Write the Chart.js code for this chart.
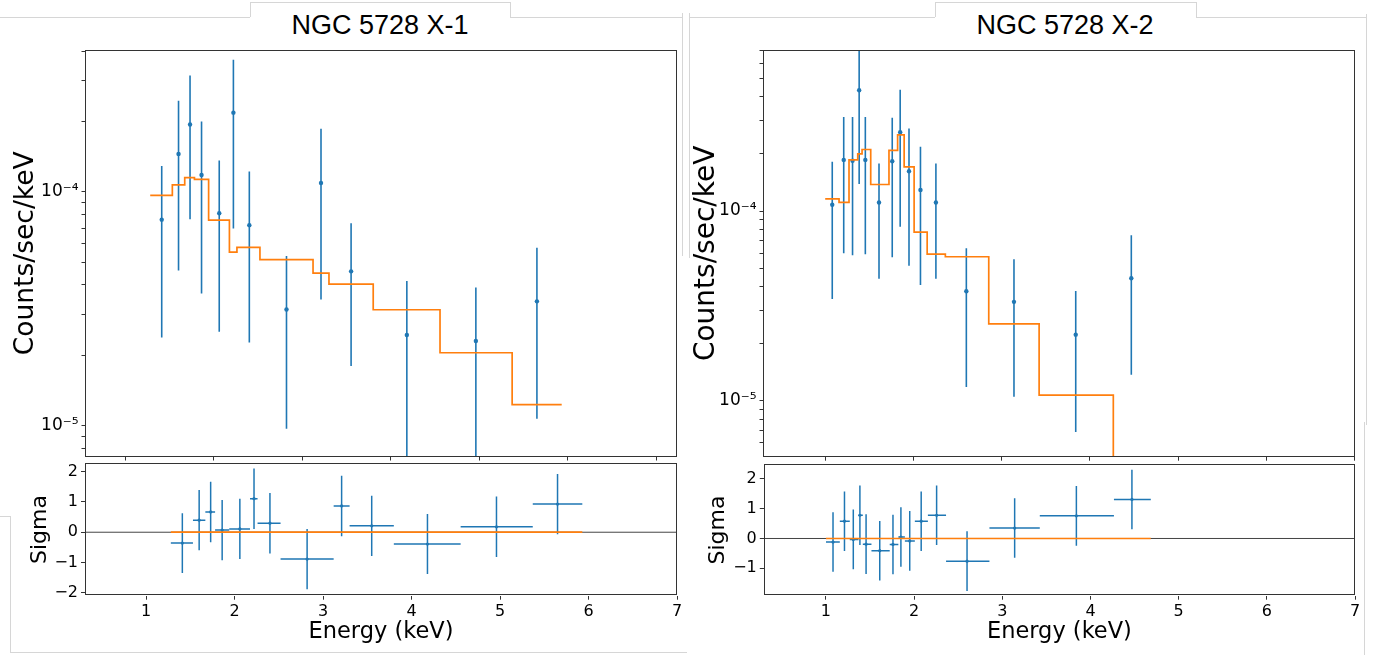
<!DOCTYPE html>
<html>
<head>
<meta charset="utf-8">
<title>NGC 5728 X-1 / X-2 spectra</title>
<script src="https://cdn.jsdelivr.net/npm/chart.js@4.4.1/dist/chart.umd.min.js"></script>
<style>
  body { margin: 0; background: #fff; }
  #page { position: relative; width: 1377px; height: 655px; overflow: hidden; background: #fff; }
  canvas { position: absolute; }
  .ln { position: absolute; background: #d6d6d6; }
  .title { position: absolute; top: 10px; width: 260px; text-align: center; line-height: 34px;
           font: 27px 'Liberation Sans', Arial, sans-serif; color: #000; }
</style>
</head>
<body>
<div id="page">
  <!-- screenshot frame lines -->
  <div class="ln" style="left:0;top:17px;width:250px;height:1px"></div>
  <div class="ln" style="left:250px;top:2px;width:1px;height:15px"></div>
  <div class="ln" style="left:250px;top:2px;width:260px;height:1px"></div>
  <div class="ln" style="left:510px;top:2px;width:1px;height:15px"></div>
  <div class="ln" style="left:510px;top:17px;width:172px;height:1px"></div>
  <div class="ln" style="left:682px;top:13px;width:1px;height:243px"></div>
  <div class="ln" style="left:689px;top:13px;width:1px;height:245px"></div>
  <div class="ln" style="left:690px;top:17px;width:245px;height:1px"></div>
  <div class="ln" style="left:935px;top:2px;width:1px;height:15px"></div>
  <div class="ln" style="left:935px;top:2px;width:261px;height:1px"></div>
  <div class="ln" style="left:1196px;top:2px;width:1px;height:15px"></div>
  <div class="ln" style="left:1196px;top:17px;width:170px;height:1px"></div>
  <div class="ln" style="left:1366px;top:14px;width:1px;height:411px"></div>
  <div class="ln" style="left:1364px;top:422px;width:1px;height:233px"></div>
  <div class="ln" style="left:0;top:516px;width:10px;height:1px"></div>
  <div class="ln" style="left:10px;top:516px;width:1px;height:137px"></div>
  <div class="ln" style="left:10px;top:652px;width:677px;height:1px"></div>

  <div class="title" style="left:250px">NGC 5728 X-1</div>
  <div class="title" style="left:935px">NGC 5728 X-2</div>

  <canvas id="x1Spec" width="690" height="425" style="left:0;top:40px"></canvas>
  <canvas id="x1Res" width="690" height="197" style="left:0;top:458px"></canvas>
  <canvas id="x2Spec" width="687" height="425" style="left:690px;top:40px"></canvas>
  <canvas id="x2Res" width="687" height="197" style="left:690px;top:458px"></canvas>
</div>
<script>
// tick values and labels
const energyTicks = [1, 2, 3, 4, 5, 6, 7];
const energyTickLabels = ['1', '2', '3', '4', '5', '6', '7'];
const fluxTicks = [1e-5, 1e-4];
const fluxTickLabels = ['10⁻⁵', '10⁻⁴'];
const x1SigmaTicks = [-2, -1, 0, 1, 2];
const x1SigmaTickLabels = ['−2', '−1', '0', '1', '2'];
const x2SigmaTicks = [-1, 0, 1, 2];
const x2SigmaTickLabels = ['−1', '0', '1', '2'];

// NGC 5728 X-1
const x1Energy   = [1.41, 1.60, 1.73, 1.86, 2.06, 2.22, 2.40, 2.82, 3.21, 3.55, 4.18, 4.96, 5.65];
const x1Flux     = [7.6e-5, 1.45e-4, 1.94e-4, 1.18e-4, 8.1e-5, 2.18e-4, 7.2e-5, 3.14e-5, 1.09e-4, 4.57e-5, 2.44e-5, 2.3e-5, 3.4e-5];
const x1FluxLo   = [2.38e-5, 4.61e-5, 7.63e-5, 3.67e-5, 2.52e-5, 6.97e-5, 2.27e-5, 9.7e-6, 3.46e-5, 1.8e-5, 1e-6, 1e-6, 1.07e-5];
const x1FluxHi   = [1.29e-4, 2.45e-4, 3.14e-4, 2.0e-4, 1.36e-4, 3.67e-4, 1.22e-4, 5.31e-5, 1.86e-4, 7.34e-5, 4.15e-5, 3.9e-5, 5.77e-5];
const x1BinEdges = [1.28, 1.53, 1.67, 1.78, 1.94, 2.175, 2.26, 2.52, 3.12, 3.30, 3.80, 4.555, 5.37, 5.93];
const x1Model    = [9.65e-5, 1.07e-4, 1.15e-4, 1.13e-4, 7.56e-5, 5.52e-5, 5.79e-5, 5.13e-5, 4.49e-5, 4.03e-5, 3.13e-5, 2.05e-5, 1.23e-5];
const x1Sigma    = [-0.36, 0.40, 0.67, 0.07, 0.11, 1.11, 0.30, -0.89, 0.87, 0.21, -0.39, 0.18, 0.93];
const x1SigmaErr = [0.99, 1.0, 1.0, 1.0, 1.0, 1.0, 1.0, 1.0, 1.0, 1.0, 0.99, 1.0, 1.0];

// NGC 5728 X-2
const x2Energy   = [1.08, 1.21, 1.31, 1.385, 1.455, 1.61, 1.76, 1.85, 1.95, 2.08, 2.255, 2.60, 3.14, 3.84, 4.47];
const x2Flux     = [1.08e-4, 1.86e-4, 1.84e-4, 4.33e-4, 1.86e-4, 1.11e-4, 1.83e-4, 2.6e-4, 1.62e-4, 1.29e-4, 1.11e-4, 3.78e-5, 3.32e-5, 2.23e-5, 4.42e-5];
const x2FluxLo   = [3.44e-5, 5.99e-5, 5.85e-5, 1.39e-4, 5.91e-5, 4.39e-5, 5.7e-5, 8.27e-5, 5.15e-5, 4.08e-5, 4.4e-5, 1.18e-5, 1.05e-5, 6.84e-6, 1.37e-5];
const x2FluxHi   = [1.82e-4, 3.13e-4, 3.13e-4, 9e-4, 3.13e-4, 1.78e-4, 3.1e-4, 4.36e-4, 2.72e-4, 2.18e-4, 1.78e-4, 6.37e-5, 5.57e-5, 3.79e-5, 7.45e-5];
const x2BinEdges = [1.0, 1.157, 1.27, 1.369, 1.418, 1.516, 1.723, 1.821, 1.895, 2.008, 2.156, 2.362, 2.854, 3.425, 4.266, 4.684];
const x2Model    = [1.16e-4, 1.11e-4, 1.86e-4, 2.0e-4, 2.11e-4, 1.38e-4, 2.09e-4, 2.52e-4, 1.71e-4, 7.75e-5, 5.92e-5, 5.74e-5, 2.54e-5, 1.07e-5, 3e-6];
const x2Sigma    = [-0.12, 0.58, -0.03, 0.78, -0.19, -0.41, -0.20, 0.05, -0.08, 0.58, 0.78, -0.76, 0.35, 0.76, 1.31];
const x2SigmaErr = [1.0, 1.0, 1.0, 1.0, 1.0, 1.0, 1.0, 1.0, 1.0, 1.0, 1.0, 1.0, 1.0, 1.0, 1.0];

const BLUE = '#1f77b4', ORANGE = '#ff7f0e', SPINE = '#333';
Chart.defaults.font.family = "'DejaVu Sans', sans-serif";
Chart.defaults.color = '#000';

function pts(xs, ys) { return xs.map((x, i) => ({ x: x, y: ys[i] })); }
// one point per bin edge at that bin's value; the closing edge repeats the last value
function steps(edges, vals) { return edges.map((e, i) => ({ x: e, y: vals[Math.min(i, vals.length - 1)] })); }
function labelFor(v, ticks, labels) {
  const i = ticks.findIndex(t => Math.abs(t - v) <= Math.abs(t) * 1e-6 + 1e-12);
  return i >= 0 ? labels[i] : '';
}
// major + minor ticks of a log axis
function logTicks(min, max) {
  const out = [];
  for (let d = Math.floor(Math.log10(min)); d <= Math.ceil(Math.log10(max)); d++) {
    for (let m = 1; m <= 9; m++) {
      const v = m * Math.pow(10, d);
      if (v >= min && v <= max) out.push({ value: v, major: m === 1 });
    }
  }
  return out;
}
// fix an axis box size and drop the label overflow padding
function fitBox(size) {
  return s => {
    if (s.isHorizontal()) s.height = size; else s.width = size;
    s.paddingTop = s.paddingBottom = s.paddingLeft = s.paddingRight = 0;
  };
}

// error bars through the chart scales, under the datasets
const errorBars = {
  id: 'errorBars',
  beforeDatasetsDraw(chart) {
    const { ctx, chartArea: a, scales: { x, y } } = chart;
    ctx.save();
    ctx.beginPath();
    ctx.rect(a.left, a.top, a.width, a.height);
    ctx.clip();
    chart.data.datasets.forEach(ds => {
      const e = ds.errorBars;
      if (!e) return;
      ctx.strokeStyle = ds.backgroundColor;
      ctx.lineWidth = e.width;
      ds.data.forEach((p, i) => {
        const px = x.getPixelForValue(p.x), py = y.getPixelForValue(p.y);
        ctx.beginPath();
        ctx.moveTo(px, y.getPixelForValue(e.yLo[i]));
        ctx.lineTo(px, y.getPixelForValue(e.yHi[i]));
        if (e.xLo) {
          ctx.moveTo(x.getPixelForValue(e.xLo[i]), py);
          ctx.lineTo(x.getPixelForValue(e.xHi[i]), py);
        }
        ctx.stroke();
      });
    });
    ctx.restore();
  }
};

const frame = {
  id: 'frame',
  afterDraw(chart) {
    const { ctx, chartArea: a } = chart;
    ctx.save();
    ctx.strokeStyle = SPINE;
    ctx.lineWidth = 1;
    ctx.strokeRect(Math.round(a.left) + 0.5, Math.round(a.top) + 0.5,
                   Math.round(a.width) - 1, Math.round(a.height) - 1);
    ctx.restore();
  }
};

function baseOptions(pad) {
  return {
    responsive: false, animation: false, events: [],
    layout: { padding: pad },
    plugins: { legend: { display: false }, tooltip: { enabled: false } }
  };
}

function specChart(id, d) {
  const opts = baseOptions(d.pad);
  opts.scales = {
    x: {
      type: 'linear', min: d.xMin, max: d.xMax,
      afterBuildTicks: s => { s.ticks = energyTicks.map(v => ({ value: v })); },
      afterFit: fitBox(d.xH),
      ticks: { display: false },
      grid: { drawOnChartArea: false, tickLength: 4, tickColor: SPINE },
      border: { display: false }
    },
    y: {
      type: 'logarithmic', min: d.yMin, max: d.yMax,
      afterBuildTicks: s => { s.ticks = logTicks(d.yMin, d.yMax); },
      afterFit: fitBox(d.yW),
      ticks: { autoSkip: false, padding: 3, font: { size: 17 },
               callback: v => labelFor(v, fluxTicks, fluxTickLabels) },
      grid: { drawOnChartArea: false, tickLength: 3.5, tickColor: SPINE },
      border: { display: false },
      title: { display: true, text: 'Counts/sec/keV', font: { size: d.titleSize },
               padding: { top: d.titlePad, bottom: 0 } }
    }
  };
  return new Chart(document.getElementById(id), {
    type: 'scatter',
    data: {
      datasets: [
        { data: steps(d.edges, d.model), showLine: true, stepped: 'before', borderColor: ORANGE,
          borderWidth: 1.7, pointRadius: 0, clip: 0, order: 0 },
        { data: pts(d.energy, d.flux), backgroundColor: BLUE, borderColor: BLUE, pointRadius: 2.2,
          pointBorderWidth: 0, order: 1, errorBars: { yLo: d.lo, yHi: d.hi, width: 1.6 } }
      ]
    },
    options: opts,
    plugins: [errorBars, frame]
  });
}

function resChart(id, d) {
  const opts = baseOptions(d.pad);
  opts.scales = {
    x: {
      type: 'linear', min: d.xMin, max: d.xMax,
      afterBuildTicks: s => { s.ticks = energyTicks.map(v => ({ value: v })); },
      afterFit: fitBox(d.xH),
      ticks: { autoSkip: false, maxRotation: 0, padding: 3, font: { size: 16 },
               callback: v => labelFor(v, energyTicks, energyTickLabels) },
      grid: { drawOnChartArea: false, tickLength: 4, tickColor: SPINE },
      border: { display: false },
      title: { display: true, text: 'Energy (keV)', font: { size: 22.5 }, padding: { top: 0, bottom: 9.8 } }
    },
    y: {
      type: 'linear', min: d.yMin, max: d.yMax,
      afterBuildTicks: s => { s.ticks = d.ticks.map(v => ({ value: v })); },
      afterFit: fitBox(d.yW),
      ticks: { autoSkip: false, padding: 3, font: { size: 16 },
               callback: v => labelFor(v, d.ticks, d.tickLabels) },
      grid: { drawOnChartArea: false, tickLength: 4, tickColor: SPINE },
      border: { display: false },
      title: { display: true, text: 'Sigma', font: { size: 22 }, padding: { top: d.titlePad, bottom: 0 } }
    }
  };
  const last = d.edges.length - 1;
  return new Chart(document.getElementById(id), {
    type: 'scatter',
    data: {
      datasets: [
        { data: [{ x: d.edges[0], y: 0 }, { x: d.edges[last], y: 0 }], showLine: true,
          borderColor: ORANGE, borderWidth: 1.7, pointRadius: 0, order: 0 },
        { data: [{ x: d.xMin, y: 0 }, { x: d.xMax, y: 0 }], showLine: true,
          borderColor: '#444', borderWidth: 1, pointRadius: 0, order: 2 },
        { data: pts(d.energy, d.sigma), backgroundColor: BLUE, borderColor: BLUE, pointRadius: 1.6,
          pointBorderWidth: 0, order: 1,
          errorBars: {
            yLo: d.sigma.map((s, i) => s - d.err[i]),
            yHi: d.sigma.map((s, i) => s + d.err[i]),
            xLo: d.edges.slice(0, last),
            xHi: d.edges.slice(1),
            width: 1.5
          } }
      ]
    },
    options: opts,
    plugins: [errorBars, frame]
  });
}

specChart('x1Spec', {
  energy: x1Energy, flux: x1Flux, lo: x1FluxLo, hi: x1FluxHi, edges: x1BinEdges, model: x1Model,
  xMin: 0.543, xMax: 7.233, yMin: 7.38e-6, yMax: 4.04e-4,
  pad: { left: 0, top: 10, right: 13, bottom: 0 }, xH: 8.5, yW: 85, titleSize: 26.5, titlePad: 10
});
resChart('x1Res', {
  energy: x1Energy, sigma: x1Sigma, err: x1SigmaErr, edges: x1BinEdges,
  ticks: x1SigmaTicks, tickLabels: x1SigmaTickLabels,
  xMin: 0.31, xMax: 7, yMin: -2.1, yMax: 2.28,
  pad: { left: 0, top: 5.3, right: 13, bottom: 0 }, xH: 59.3, yW: 85, titlePad: 26.8
});
specChart('x2Spec', {
  energy: x2Energy, flux: x2Flux, lo: x2FluxLo, hi: x2FluxHi, edges: x2BinEdges, model: x2Model,
  xMin: 0.295, xMax: 7, yMin: 5.07e-6, yMax: 7.06e-4,
  pad: { left: 0, top: 10, right: 22.5, bottom: 0 }, xH: 8.3, yW: 73, titleSize: 28, titlePad: 0
});
resChart('x2Res', {
  energy: x2Energy, sigma: x2Sigma, err: x2SigmaErr, edges: x2BinEdges,
  ticks: x2SigmaTicks, tickLabels: x2SigmaTickLabels,
  xMin: 0.295, xMax: 7, yMin: -1.92, yMax: 2.49,
  pad: { left: 0, top: 6.3, right: 22, bottom: 0 }, xH: 59.3, yW: 73.8, titlePad: 14.8
});
</script>
</body>
</html>
